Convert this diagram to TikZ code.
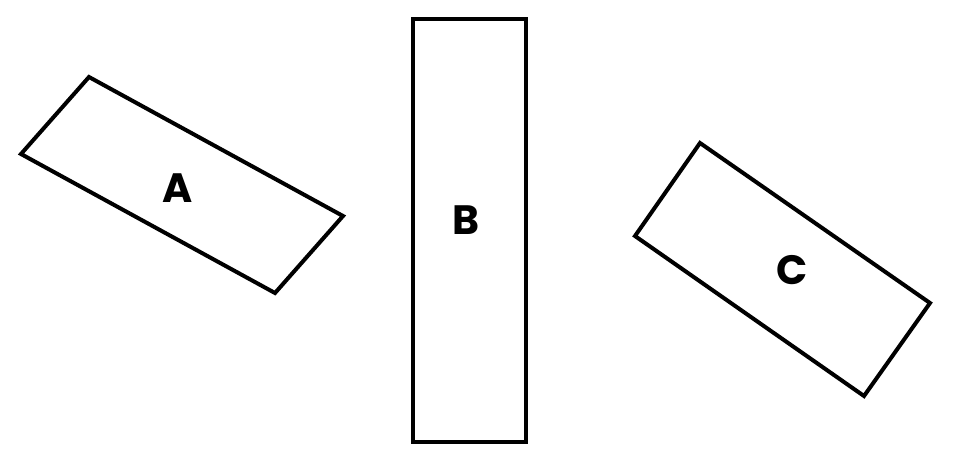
\documentclass[tikz,border=0pt]{standalone}
\usepackage{fontspec}
\setmainfont{Poppins}
\begin{document}
\begin{tikzpicture}[x=1pt,y=-1pt,
  box/.style={draw=black,line width=4pt,line join=miter},
  lbl/.style={font=\fontsize{41}{41}\selectfont\bfseries,inner sep=0pt}]
\useasboundingbox (0,0) rectangle (953,461);
\draw[box] (89,77) -- (343,216) -- (275,293) -- (21,154) -- cycle;
\draw[box] (413,19) rectangle (526,442);
\draw[box] (700,143) -- (930,303) -- (864,396) -- (635,236) -- cycle;
\node[lbl] (A) at (178,188) {A};
\node[lbl] (B) at (466,220) {B};
\node[lbl] (C) at (792,270) {C};
\end{tikzpicture}
\end{document}
